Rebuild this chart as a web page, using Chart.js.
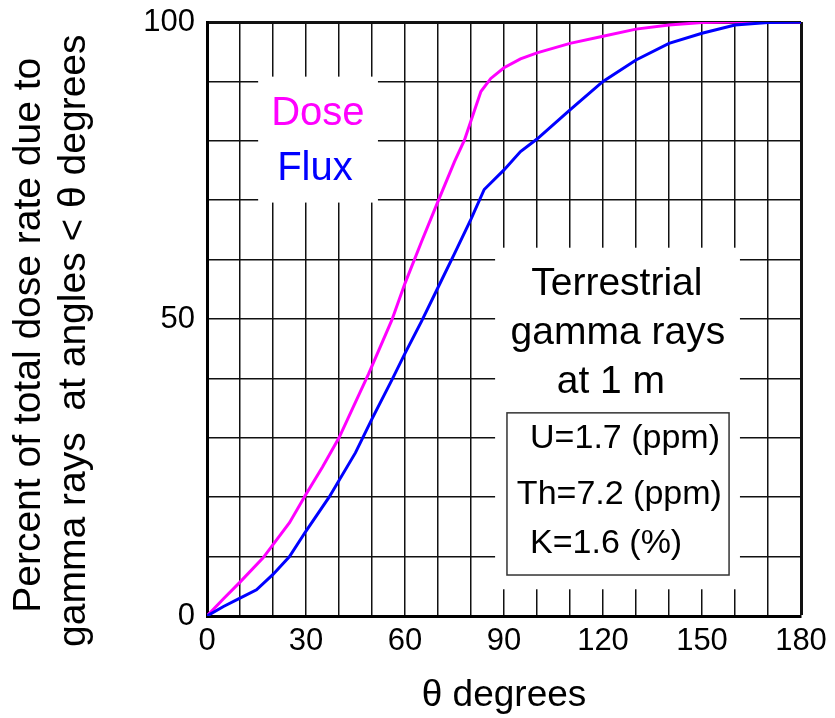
<!DOCTYPE html>
<html>
<head>
<meta charset="utf-8">
<script src="https://cdn.jsdelivr.net/npm/chart.js@4"></script>
<style>
  html, body { margin: 0; padding: 0; background: #fff; }
  #wrap { width: 835px; height: 718px; }
</style>
</head>
<body>
<div id="wrap"><canvas id="angleChart" width="835" height="718"></canvas></div>
<script>
// cumulative share of the dose rate (magenta) and of the flux (blue), percent
var doseAngles = [0, 5, 10, 17, 25, 30, 35, 40, 45, 49, 56, 60, 65, 70, 75, 78, 83, 86, 90, 95, 100, 110, 120, 130, 140, 150, 160, 180];
var doseValues = [0, 2.9, 5.7, 9.8, 15.7, 20.5, 25.1, 30, 36, 40.8, 49.8, 56, 63, 69.8, 76.5, 80.1, 88.3, 90.5, 92.3, 93.8, 94.8, 96.4, 97.6, 98.8, 99.5, 99.9, 100, 100];

var fluxAngles = [0, 5, 10, 15, 20, 25, 30, 37, 45, 50, 56, 60, 65, 70, 75, 80, 84, 90, 95, 100, 110, 120, 130, 140, 150, 160, 170, 180];
var fluxValues = [0, 1.6, 3.0, 4.4, 7.0, 10.0, 14.3, 20, 27.5, 33.2, 39.7, 44.2, 49.6, 55.3, 61, 66.8, 71.8, 75.1, 78.2, 80.3, 85.2, 90, 93.6, 96.4, 98.1, 99.5, 99.9, 100];

var xTickLabels = [0, 30, 60, 90, 120, 150, 180];
var yTickLabels = [0, 50, 100];

var FONT = "'Liberation Sans', Arial, sans-serif";

function toPoints(xs, ys) {
    return xs.map(function (x, i) {
        return { x: x, y: ys[i] };
    });
}

// white patches behind the labels, given in data units
var blanks = [
    { x0: 15.5, x1: 51.8, y0: 69.6, y1: 90.8 },
    { x0: 87.3, x1: 161.5, y0: 4.5, y1: 62.0 }
];

var labelsPlugin = {
    id: "labels",
    beforeDatasetsDraw: function (chart) {
        var ctx = chart.ctx;
        var xs = chart.scales.x, ys = chart.scales.y;
        ctx.save();
        ctx.fillStyle = "#ffffff";
        blanks.forEach(function (b) {
            var l = xs.getPixelForValue(b.x0), r = xs.getPixelForValue(b.x1);
            var t = ys.getPixelForValue(b.y1), btm = ys.getPixelForValue(b.y0);
            ctx.fillRect(l, t, r - l, btm - t);
        });
        ctx.restore();
    },
    afterDatasetsDraw: function (chart) {
        var ctx = chart.ctx;
        var xs = chart.scales.x, ys = chart.scales.y;
        var px = function (v) { return xs.getPixelForValue(v); };
        var py = function (v) { return ys.getPixelForValue(v); };
        ctx.save();
        ctx.textBaseline = "alphabetic";

        ctx.textAlign = "center";
        ctx.font = "40px " + FONT;
        ctx.fillStyle = "#ff00ff";
        ctx.fillText("Dose", px(33.6), py(82.7));
        ctx.fillStyle = "#0000ff";
        ctx.fillText("Flux", px(32.7), py(73.4));

        ctx.fillStyle = "#000";
        ctx.font = "39px " + FONT;
        ctx.fillText("Terrestrial", px(124.2), py(54.0));
        ctx.fillText("gamma rays", px(124.5), py(45.8));
        ctx.fillText("at 1 m", px(122.4), py(37.5));

        // composition box
        ctx.strokeStyle = "#333";
        ctx.lineWidth = 1.5;
        var bl = px(90.9), br = px(158.2), bt = py(34.2), bb = py(6.9);
        ctx.strokeRect(bl, bt, br - bl, bb - bt);

        ctx.textAlign = "left";
        ctx.font = "34px " + FONT;
        ctx.fillText("U=1.7 (ppm)", px(97.9), py(28.3));
        ctx.fillText("Th=7.2 (ppm)", px(93.9), py(18.9));
        ctx.fillText("K=1.6 (%)", px(97.9), py(10.6));
        ctx.restore();
    }
};

var ctx = document.getElementById("angleChart").getContext("2d");

new Chart(ctx, {
    type: "line",
    data: {
        datasets: [
            {
                label: "Dose",
                data: toPoints(doseAngles, doseValues),
                borderColor: "#ff00ff",
                borderWidth: 3,
                pointRadius: 0,
                tension: 0,
                order: 2
            },
            {
                label: "Flux",
                data: toPoints(fluxAngles, fluxValues),
                borderColor: "#0000ff",
                borderWidth: 3,
                pointRadius: 0,
                tension: 0,
                order: 1
            }
        ]
    },
    options: {
        responsive: false,
        animation: false,
        events: [],
        layout: {
            padding: { top: 22, right: 34, left: 0, bottom: 0 }
        },
        plugins: {
            legend: { display: false },
            tooltip: { enabled: false }
        },
        scales: {
            x: {
                type: "linear",
                min: 0,
                max: 180,
                afterFit: function (scale) {
                    scale.height = 102;
                    scale.paddingLeft = 0;
                    scale.paddingRight = 0;
                },
                ticks: {
                    stepSize: 10,
                    padding: 7,
                    color: "#000",
                    maxRotation: 0,
                    autoSkip: false,
                    font: { family: FONT, size: 31 },
                    callback: function (v) {
                        return xTickLabels.indexOf(v) >= 0 ? String(v) : "";
                    }
                },
                grid: {
                    color: "#111",
                    drawTicks: false,
                    lineWidth: function (c) {
                        return c.tick && c.tick.value === 180 ? 3 : 1.5;
                    }
                },
                border: { color: "#000", width: 3 },
                title: {
                    display: true,
                    text: "θ degrees",
                    color: "#000",
                    padding: { top: 0, bottom: 0 },
                    font: { family: FONT, size: 37 }
                }
            },
            y: {
                min: 0,
                max: 100,
                afterFit: function (scale) {
                    scale.width = 207;
                    scale.paddingTop = 0;
                    scale.paddingBottom = 0;
                },
                ticks: {
                    stepSize: 10,
                    padding: 12,
                    color: "#000",
                    autoSkip: false,
                    font: { family: FONT, size: 31 },
                    callback: function (v) {
                        return yTickLabels.indexOf(v) >= 0 ? String(v) : "";
                    }
                },
                grid: {
                    color: "#111",
                    drawTicks: false,
                    lineWidth: function (c) {
                        return c.tick && c.tick.value === 100 ? 3 : 1.5;
                    }
                },
                border: { color: "#000", width: 3 },
                title: {
                    display: true,
                    // trailing spaces nudge the centred lines a little lower, as in the original
                    text: ["Percent of total dose rate due to   ", "gamma rays  at angles < θ degrees    "],
                    color: "#000",
                    padding: { top: 7, bottom: 0 },
                    font: { family: FONT, size: 39, lineHeight: 1.15 }
                }
            }
        }
    },
    plugins: [labelsPlugin]
});
</script>
</body>
</html>
